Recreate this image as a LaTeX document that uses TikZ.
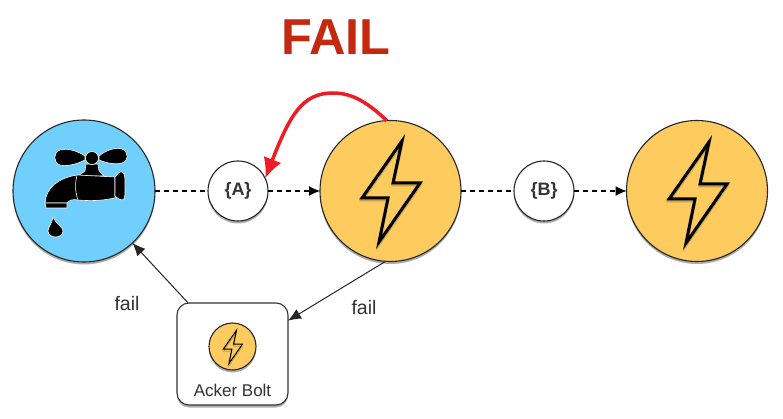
\documentclass[tikz,border=0pt]{standalone}
\usepackage{fontspec}
\setmainfont{Liberation Sans}
\usetikzlibrary{arrows.meta,shadows}
\definecolor{spoutblue}{HTML}{70CFFD}
\definecolor{boltorange}{HTML}{FDCB5E}
\definecolor{failred}{HTML}{C4290F}
\definecolor{arcred}{HTML}{EE1C25}
\tikzset{
  softshadow/.style={drop shadow={shadow xshift=0pt,shadow yshift=-2.5pt,opacity=.32,fill=black}},
  bigcircle/.style={circle,draw=black!85,line width=1.1pt,minimum size=#1,inner sep=0pt,outer sep=0pt,softshadow},
  spoutnode/.style={bigcircle=142pt,fill=spoutblue},
  boltnode/.style={bigcircle=141pt,fill=boltorange},
  tuplenode/.style={bigcircle=60pt,fill=white,font=\bfseries\fontsize{18}{20}\selectfont,text=black!80},
  ackerbox/.style={draw=black!80,line width=1.1pt,rounded corners=12pt,fill=white,minimum width=111pt,minimum height=102pt,inner sep=0pt,outer sep=0pt,softshadow},
  streamline/.style={draw=black,line width=1.2pt,dash pattern=on 5pt off 4pt},
  tipped/.style={-{Latex[length=11pt,width=10pt]}},
  failline/.style={draw=black!85,line width=1pt,-{Latex[length=13pt,width=11pt]}},
  redarc/.style={draw=arcred,line width=3.5pt,-{Latex[length=20pt,width=19pt]}},
  faillabel/.style={font=\fontsize{19.5}{22}\selectfont,text=black!80},
  boltglyph/.style={draw=black,line width=#1,fill=none,line join=miter},
  tapshape/.style={fill=black,draw=white,line width=.6pt}
}
\newcommand{\boltat}[4]{%
  \draw[boltglyph=#4,draw opacity=.2,shift={(#1,#2+2)},scale=#3]
    (12,-49) -- (-28,8) -- (-2,8) -- (-11,52) -- (30,-7) -- (3,-7) -- cycle;
  \draw[boltglyph=#4,shift={(#1,#2)},scale=#3]
    (12,-49) -- (-28,8) -- (-2,8) -- (-11,52) -- (30,-7) -- (3,-7) -- cycle;}
\begin{document}
\begin{tikzpicture}[x=1pt,y=-1pt]
\useasboundingbox[fill=white] (0,0) rectangle (783,419);
\node[font=\bfseries\fontsize{50.5}{52}\selectfont,text=failred] (title) at (336,37) {FAIL};
\node[spoutnode] (spout) at (84,191) {};
\node[boltnode] (boltone) at (390.5,191) {};
\node[boltnode] (bolttwo) at (697,191) {};
\node[tuplenode] (tupa) at (238,191) {\{A\}};
\node[tuplenode] (tupb) at (544,191) {\{B\}};
\node[ackerbox] (acker) at (232.5,354) {};
\node[bigcircle=47pt,fill=boltorange] (ackerbolt) at (232.5,346.5) {};
\node[font=\fontsize{17}{19}\selectfont,text=black!80] (ackerlabel) at (232.5,390) {Acker Bolt};
\boltat{390}{190}{1}{3pt}
\boltat{697}{191}{1}{3pt}
\boltat{232.5}{346.5}{.33}{1pt}
% tap
\path[tapshape] (85,156) .. controls (76,150) and (66,148) .. (60,150) .. controls (53,152) and (53,163) .. (60,165) .. controls (66,167) and (77,164) .. (85,160) -- cycle;
\path[tapshape] (99,156) .. controls (106,150) and (116,147) .. (122,149) .. controls (129,152) and (129,161) .. (122,163) .. controls (116,165) and (106,163) .. (99,160) -- cycle;
\path[tapshape] (86,164) -- (98,164) -- (99,171) -- (104,176) -- (78,176) -- (85,171) -- cycle;
\path[tapshape] (92,158) circle [radius=6.5];
\path[tapshape] (45,203) .. controls (46,188) and (58,178) .. (77,175) -- (115,177) -- (115,198) .. controls (100,201) and (90,201) .. (78,200) .. controls (73,199) and (69,200) .. (67,203) -- cycle;
\path[tapshape] (77,175) .. controls (75,183) and (75,192) .. (78,200);
\path[tapshape] (45,203) -- (67,203) -- (67,208) -- (46,208) -- cycle;
\path[tapshape] (115,177) .. controls (118,174) and (119,171) .. (122,172) .. controls (125,173) and (125,177) .. (125,186) .. controls (125,196) and (125,200) .. (122,200) .. controls (119,200) and (118,198) .. (115,196) -- cycle;
\path[tapshape] (53,217) .. controls (52,224) and (48,227) .. (48,231) .. controls (48,239) and (63,239) .. (63,231) .. controls (63,227) and (56,224) .. (53,217) -- cycle;
% connectors
\path[streamline] (spout) -- (tupa);
\path[streamline,tipped] (tupa) -- (boltone);
\path[streamline] (boltone) -- (tupb);
\path[streamline,tipped] (tupb) -- (bolttwo);
\path[failline] (boltone.266) -- (acker.31);
\path[failline] (acker.131) -- (spout.313);
\path[redarc] (boltone.93) .. controls (367,102) and (352,93) .. (333,93) .. controls (302,93) and (290,115) .. (tupa.25);
\node[faillabel] (failleft) at (127,304) {fail};
\node[faillabel] (failright) at (364,308) {fail};
\end{tikzpicture}
\end{document}
